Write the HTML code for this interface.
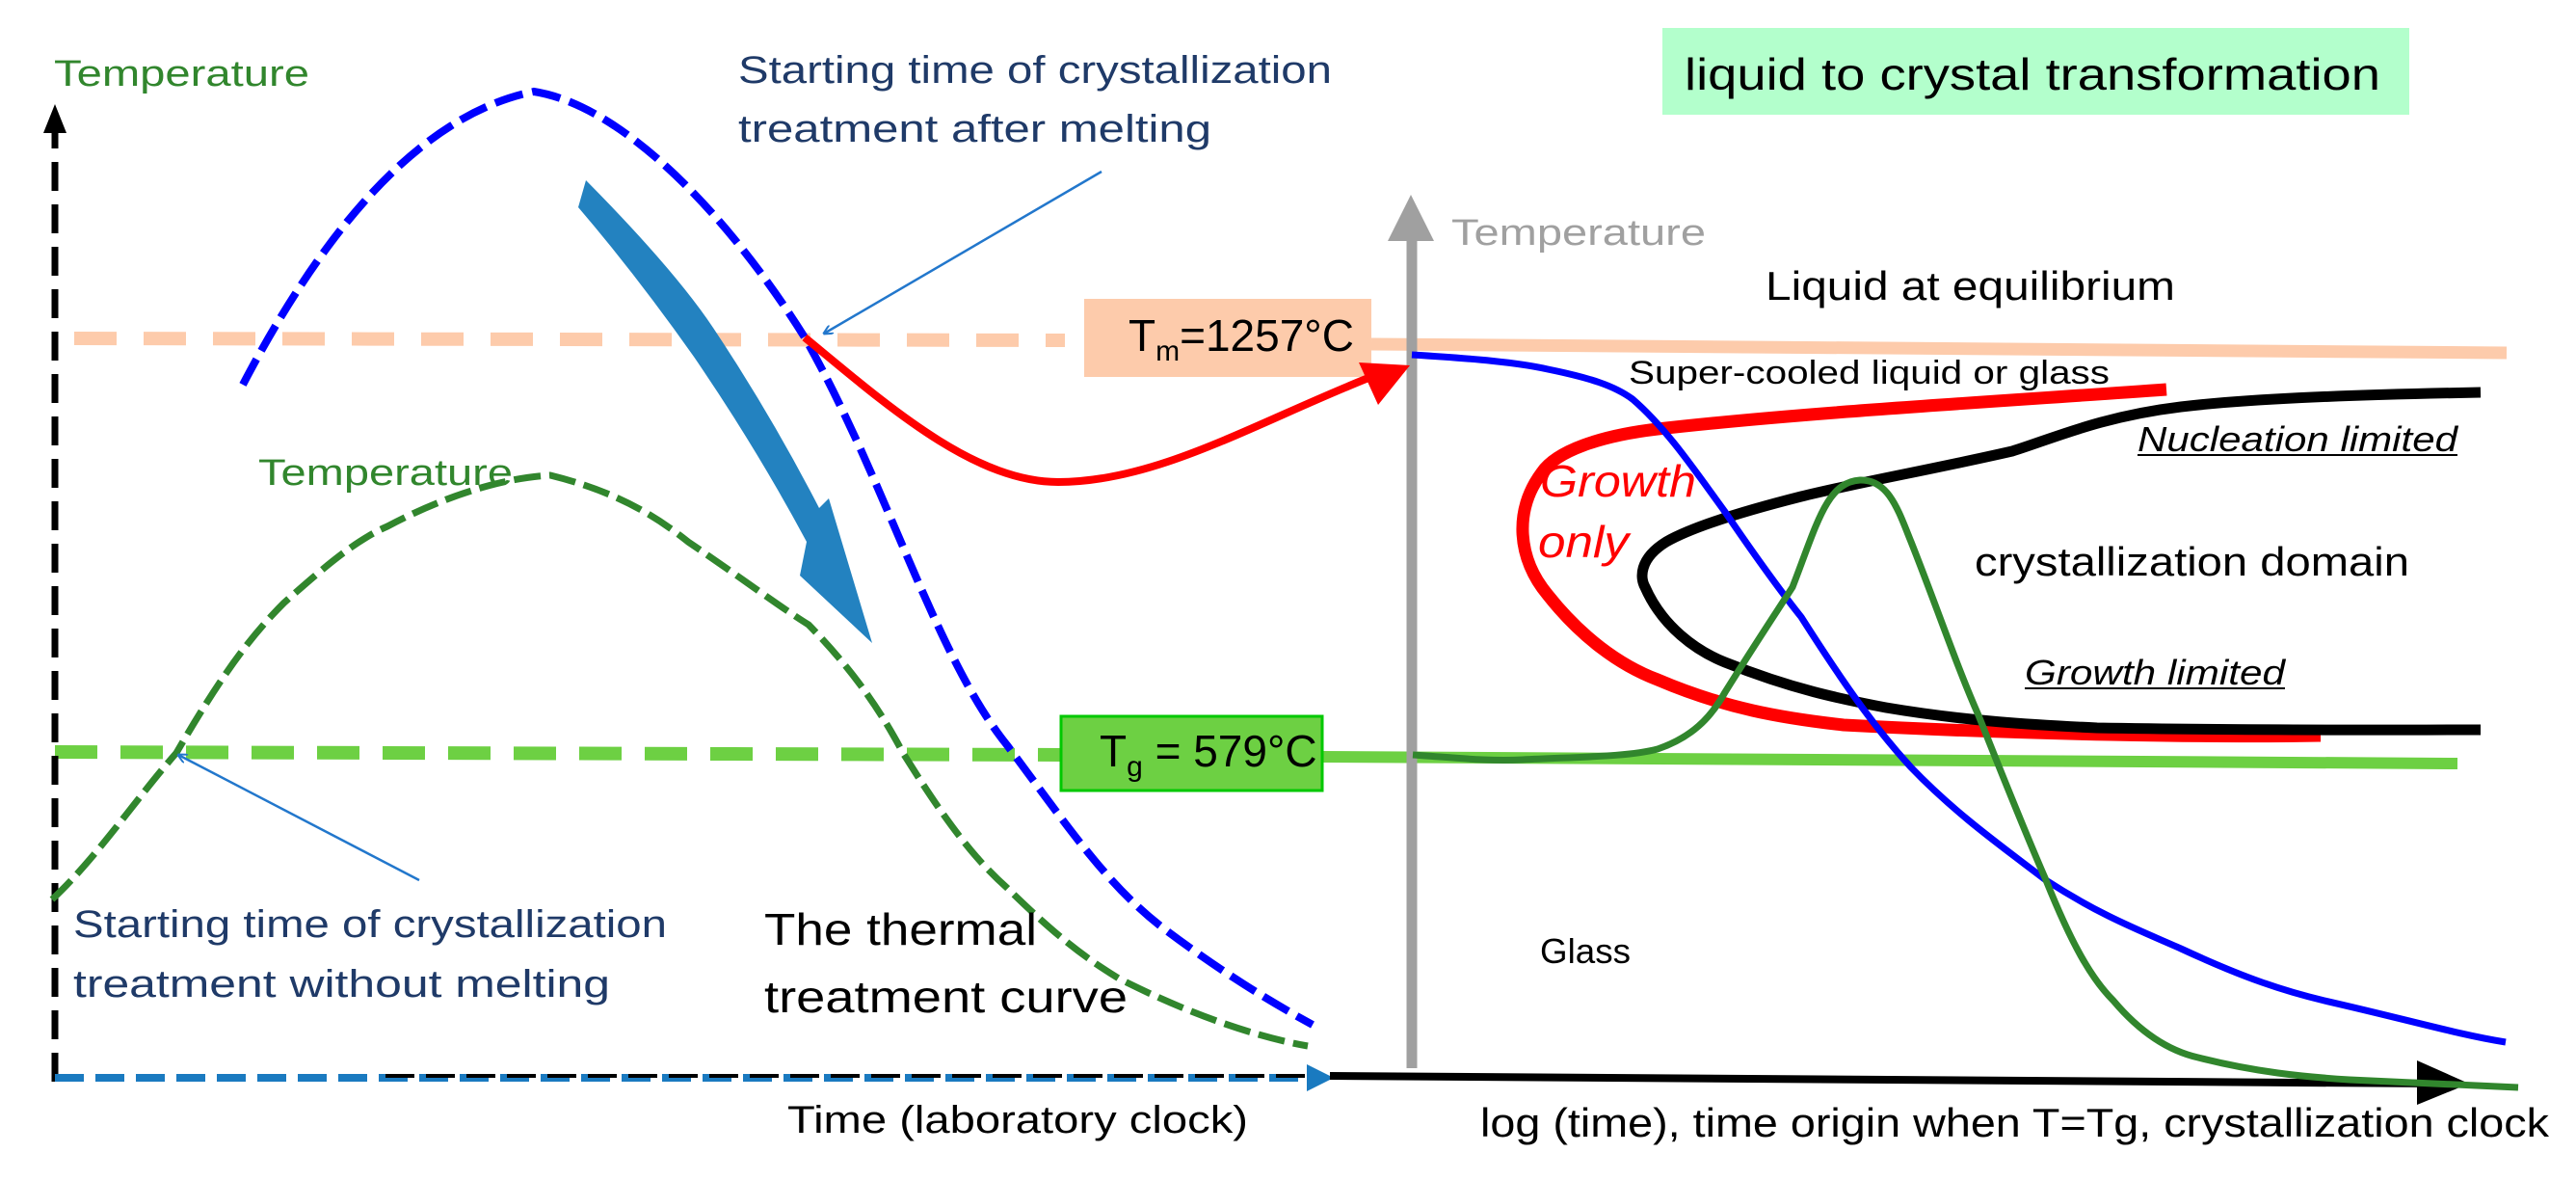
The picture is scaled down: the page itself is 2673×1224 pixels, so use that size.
<!DOCTYPE html>
<html><head><meta charset="utf-8"><style>
html,body{margin:0;padding:0;background:#fff;}
svg{display:block;}
text{font-family:"Liberation Sans",sans-serif;}
</style></head><body>
<svg width="2673" height="1224" viewBox="0 0 2673 1224" xmlns="http://www.w3.org/2000/svg">
<defs>
<marker id="ah" markerWidth="10" markerHeight="10" refX="9" refY="5" orient="auto" markerUnits="userSpaceOnUse"><path d="M0,0 L10,5 L0,10" fill="none" stroke="#2277cc" stroke-width="2"/></marker>
</defs>
<rect x="1725" y="29" width="775" height="90" fill="#b3ffcc"/>
<text x="1748" y="93" font-size="46" textLength="722" lengthAdjust="spacingAndGlyphs">liquid to crystal transformation</text>

<line x1="77" y1="351" x2="1105" y2="353" stroke="#fdcbab" stroke-width="14" stroke-dasharray="44,28"/>
<line x1="57" y1="780" x2="1105" y2="783" stroke="#6dd043" stroke-width="14" stroke-dasharray="44,24"/>

<line x1="1423" y1="357" x2="2601" y2="366" stroke="#fdcbab" stroke-width="13"/>
<line x1="1372" y1="785" x2="2550" y2="792" stroke="#6dd043" stroke-width="12"/>

<rect x="1125" y="310" width="298" height="81" fill="#fdcbab"/>
<text x="1171" y="364" font-size="46">T<tspan font-size="30" dy="10">m</tspan><tspan dy="-10">=1257°C</tspan></text>
<rect x="1101" y="743" width="271" height="77" fill="#6dd043" stroke="#00c800" stroke-width="3"/>
<text x="1141" y="795" font-size="46">T<tspan font-size="30" dy="10">g</tspan><tspan dy="-10"> = 579°C</tspan></text>

<line x1="57" y1="1122" x2="57" y2="130" stroke="#000" stroke-width="7" stroke-dasharray="30,14"/>
<polygon points="57,108 45,138 69,138" fill="#000"/>
<line x1="57" y1="1118" x2="1370" y2="1118" stroke="#1a7ac0" stroke-width="8" stroke-dasharray="30,12"/>
<line x1="400" y1="1116" x2="1370" y2="1116" stroke="#000" stroke-width="4" stroke-dasharray="30,12"/>
<polygon points="1384,1118 1356,1104 1356,1132" fill="#1a7ac0"/>
<line x1="1380" y1="1116" x2="2530" y2="1124" stroke="#000" stroke-width="8"/>
<polygon points="2562,1124 2508,1100 2508,1146" fill="#000"/>

<line x1="1465" y1="1108" x2="1465" y2="240" stroke="#a0a0a0" stroke-width="11"/>
<polygon points="1464,202 1440,250 1488,250" fill="#a0a0a0"/>
<text x="1506" y="254" font-size="38" fill="#a0a0a0" textLength="264" lengthAdjust="spacingAndGlyphs">Temperature</text>

<path d="M252,399 C330,250 430,120 554,95 C650,110 760,230 835,350 C920,500 970,680 1045,773 C1110,860 1150,920 1210,965 C1270,1010 1320,1040 1362,1063" fill="none" stroke="#0000ff" stroke-width="8" stroke-dasharray="30,10"/>
<path d="M54,933 C100,890 140,830 183,781 C230,700 260,660 295,625 C340,585 370,560 402,546 C470,510 530,495 571,493 C640,510 680,535 714,562 C770,600 810,630 839,648 C880,690 910,730 937,781 C980,850 1010,890 1045,921 C1090,965 1120,990 1161,1015 C1230,1050 1300,1075 1357,1085" fill="none" stroke="#31862d" stroke-width="7" stroke-dasharray="28,9"/>

<path d="M608,187 Q700,280 740,340 Q800,430 850,527 L860,517 L905,667 L830,597 L837,562 Q785,465 720,370 Q660,285 600,215 Z" fill="#2382c0"/>

<path d="M835,350 C920,420 1010,500 1098,500 C1200,500 1300,440 1420,392" fill="none" stroke="#ff0000" stroke-width="8"/>
<polygon points="1463,379 1410,376 1430,420" fill="#ff0000"/>

<line x1="1143" y1="178" x2="855" y2="346" stroke="#2277cc" stroke-width="2.5" marker-end="url(#ah)"/>
<line x1="435" y1="913" x2="185" y2="783" stroke="#2277cc" stroke-width="2.5" marker-end="url(#ah)"/>

<path d="M2248,404 C2050,418 1870,428 1720,445 C1660,452 1615,468 1600,490 C1570,530 1575,580 1606,617 C1640,660 1680,690 1720,705 C1790,735 1850,745 1913,752 C2100,762 2300,765 2408,763" fill="none" stroke="#ff0000" stroke-width="13"/>
<path d="M2574,407 C2420,410 2330,414 2263,422 C2180,432 2130,455 2088,468 C2000,488 1930,500 1869,515 C1790,535 1750,550 1729,562 C1700,580 1702,600 1707,609 C1725,650 1760,675 1790,687 C1860,715 1910,725 1957,734 C2040,748 2110,752 2176,755 C2350,758 2480,757 2574,757" fill="none" stroke="#000" stroke-width="11"/>
<path d="M1465,368 C1530,372 1575,376 1606,383 C1650,392 1675,400 1694,414 C1730,445 1760,490 1790,531 C1820,575 1845,610 1869,640 C1920,720 1950,760 1983,796 C2030,845 2080,880 2123,913 C2180,950 2220,965 2263,984 C2330,1015 2370,1028 2412,1038 C2500,1058 2550,1073 2600,1081" fill="none" stroke="#0000ff" stroke-width="7"/>
<path d="M1466,783 C1510,786 1545,790 1580,788 C1640,785 1690,785 1720,777 C1755,765 1775,745 1790,718 C1820,670 1840,640 1860,609 C1885,545 1895,500 1930,498 C1960,497 1970,530 1983,562 C2010,630 2030,690 2053,742 C2080,810 2100,860 2123,913 C2150,980 2170,1015 2193,1038 C2220,1070 2250,1090 2281,1097 C2340,1112 2390,1117 2438,1120 C2520,1124 2570,1126 2613,1128" fill="none" stroke="#31862d" stroke-width="7"/>

<text x="56" y="89" font-size="38" fill="#31862d" textLength="265" lengthAdjust="spacingAndGlyphs">Temperature</text>
<text x="268" y="503" font-size="38" fill="#31862d" textLength="264" lengthAdjust="spacingAndGlyphs">Temperature</text>
<text x="766" y="86" font-size="40" fill="#1f3a68" textLength="616" lengthAdjust="spacingAndGlyphs">Starting time of crystallization</text>
<text x="766" y="147" font-size="40" fill="#1f3a68" textLength="491" lengthAdjust="spacingAndGlyphs">treatment after melting</text>
<text x="76" y="972" font-size="40" fill="#1f3a68" textLength="616" lengthAdjust="spacingAndGlyphs">Starting time of crystallization</text>
<text x="76" y="1034" font-size="40" fill="#1f3a68" textLength="557" lengthAdjust="spacingAndGlyphs">treatment without melting</text>
<text x="793" y="980" font-size="46" fill="#000" textLength="283" lengthAdjust="spacingAndGlyphs">The thermal</text>
<text x="793" y="1050" font-size="46" fill="#000" textLength="377" lengthAdjust="spacingAndGlyphs">treatment curve</text>
<text x="817" y="1175" font-size="40" fill="#000" textLength="478" lengthAdjust="spacingAndGlyphs">Time (laboratory clock)</text>
<text x="1536" y="1179" font-size="42" fill="#000" textLength="1109" lengthAdjust="spacingAndGlyphs">log (time), time origin when T=Tg, crystallization clock</text>
<text x="1832" y="311" font-size="42" fill="#000" textLength="425" lengthAdjust="spacingAndGlyphs">Liquid at equilibrium</text>
<text x="1690" y="398" font-size="34" fill="#000" textLength="499" lengthAdjust="spacingAndGlyphs">Super-cooled liquid or glass</text>
<text x="2218" y="468" font-size="36" font-style="italic" fill="#000" textLength="332" lengthAdjust="spacingAndGlyphs">Nucleation limited</text>
<line x1="2218" y1="472" x2="2550" y2="472" stroke="#000" stroke-width="2"/>
<text x="2049" y="597" font-size="42" fill="#000" textLength="451" lengthAdjust="spacingAndGlyphs">crystallization domain</text>
<text x="2101" y="710" font-size="36" font-style="italic" fill="#000" textLength="270" lengthAdjust="spacingAndGlyphs">Growth limited</text>
<line x1="2101" y1="714" x2="2371" y2="714" stroke="#000" stroke-width="2"/>
<text x="1598" y="515" font-size="46" font-style="italic" fill="#ff0000" textLength="162" lengthAdjust="spacingAndGlyphs">Growth</text>
<text x="1596" y="578" font-size="46" font-style="italic" fill="#ff0000" textLength="94" lengthAdjust="spacingAndGlyphs">only</text>
<text x="1598" y="999" font-size="36" fill="#000" textLength="94" lengthAdjust="spacingAndGlyphs">Glass</text>
</svg>
</body></html>
